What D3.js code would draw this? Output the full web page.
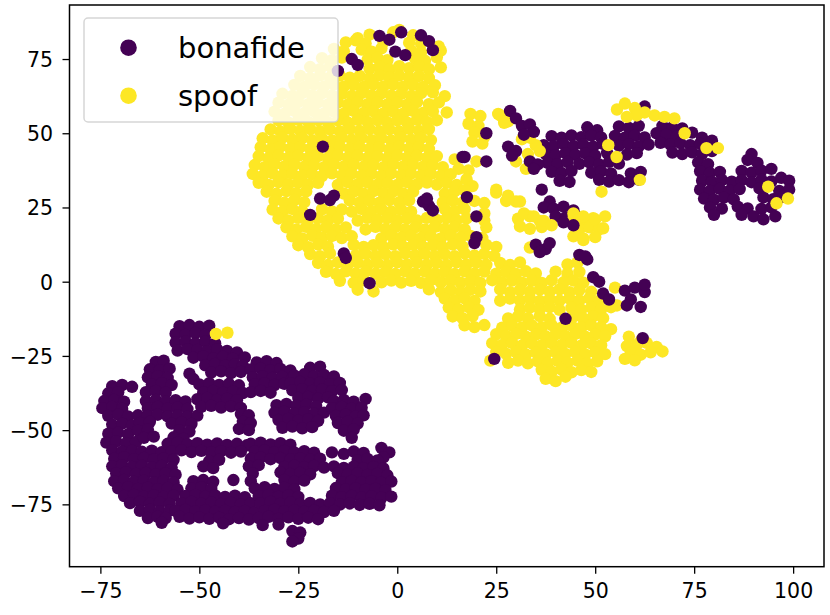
<!DOCTYPE html>
<html lang="en">

<head>
  <meta charset="UTF-8">
  <title>t-SNE bonafide / spoof</title>
  <script src="https://d3js.org/d3.v7.min.js"></script>
  <style>
    body {
      margin: 0;
      background: white;
    }

    text {
      font-family: "DejaVu Sans", sans-serif;
    }
  </style>
</head>

<body>
  <script>
    // ---- data ----
    var classNames = ["bonafide", "spoof"]
    var xTicks = [-75, -50, -25, 0, 25, 50, 75, 100]
    var yTicks = [-75, -50, -25, 0, 25, 50, 75]

    // bonafide, lower left cluster
    var bonafideLow = [
      // top knob
      [-55, -15], [-52.5, -14.6], [-50, -15.2], [-47.5, -14.8],
      [-56, -17.5], [-53.5, -17.9], [-51, -17.3], [-48.5, -18],
      [-56, -20.5], [-53.5, -20.1], [-51, -20.7], [-48.5, -20.2], [-46, -20.8],
      [-55.5, -23.2], [-53, -22.7], [-50.5, -23], [-48, -23.4], [-45.5, -22.8], [-43, -23.3], [-40.5, -23.8],
      [-51.5, -25.6], [-49, -25.2], [-46.5, -25.8], [-44, -25.3], [-41.5, -25.9], [-38.5, -25.5],
      [-48.5, -28.2], [-46, -27.7], [-43.5, -28.3], [-41, -27.8], [-39, -28.4],
      [-47, -30.6], [-44.5, -30.2], [-42, -30.8], [-39.5, -30.4],
      [-52.5, -31], [-51.5, -32.8],
      // upper left arm
      [-61, -27], [-59, -26.6], [-62.5, -29.5], [-60, -29.8], [-57.5, -29.3],
      [-63, -32.2], [-60.5, -31.8], [-58, -32.4], [-62, -34.6], [-59.5, -34.2], [-57, -34.8],
      [-63.5, -37.2], [-61, -36.8], [-58.5, -37.4],
      // left lobe
      [-72, -35.2], [-69.5, -34.8], [-67, -35.4], [-73, -37.6], [-70.5, -37.2],
      [-74, -40.2], [-71.5, -39.8], [-69, -40.4], [-74.5, -42.6], [-72, -42.2], [-69.5, -42.8],
      [-73, -45.2], [-70.5, -44.8], [-68, -45.4], [-65.5, -45],
      [-72, -48.2], [-69.5, -47.8], [-67, -48.4],
      [-73, -51.2], [-70.5, -50.8], [-68, -51.4], [-73.5, -54.2], [-71, -53.8], [-68.5, -54.4], [-66, -54],
      [-72, -56.8], [-69.5, -57.2], [-67, -56.9], [-64.5, -57.3], [-62, -56.9], [-59.5, -57.4],
      // centre left
      [-63.5, -40.2], [-61, -39.8], [-58.5, -40.4], [-56, -39.9], [-53.5, -40.3],
      [-63, -42.6], [-60.5, -42.2], [-58, -42.8], [-55.5, -42.4], [-53, -42.9],
      [-63, -45.2], [-60.5, -44.8], [-58, -45.4], [-55.5, -45], [-53, -45.5], [-50.5, -45.1],
      [-65, -47.6], [-62.5, -47.2], [-57, -47.8], [-54.5, -47.4], [-52, -47.9],
      [-65.5, -50.2], [-63, -49.8], [-55, -50], [-52.5, -50.5],
      [-64, -52.6], [-61.5, -52.2], [-56.5, -52.4], [-54, -52.9],
      // band right of centre
      [-50, -34.6], [-47.5, -34.2], [-45, -34.8], [-42.5, -34.4], [-40, -34.9],
      [-49, -37.2], [-46.5, -36.8], [-44, -37.4], [-41.5, -37], [-39, -37.5],
      [-50.5, -39.6], [-48, -39.2], [-45.5, -39.8], [-43, -39.4], [-40.5, -39.9],
      [-49.5, -42.2], [-47, -41.8], [-44.5, -42.4], [-42, -42], [-39.5, -42.5],
      [-39.5, -44.6], [-37.5, -45], [-39, -47.2], [-37, -47.6], [-40, -49.6], [-37.5, -50],
      [-58, -54.6], [-55.5, -54.2], [-53, -54.8], [-50.5, -54.4], [-48, -54.9], [-45.5, -54.5], [-43, -55], [-40.5, -54.6], [-38, -55.1],
      [-57, -57.2], [-54.5, -56.8], [-52, -57.4], [-49.5, -57], [-47, -57.5], [-44.5, -57.1], [-42, -57.6], [-39.5, -57.2],
      [-47.5, -60.4], [-45, -60],
      [-49, -62.2], [-46.5, -62.8], [-41.4, -66.8],
      // lower left
      [-71.5, -59.6], [-69, -59.2], [-66.5, -59.8], [-64, -59.4], [-61.5, -59.9], [-59, -59.5], [-56.5, -60],
      [-72, -62.2], [-69.5, -61.8], [-67, -62.4], [-64.5, -62], [-62, -62.5], [-59.5, -62.1], [-57, -62.6],
      [-71, -64.6], [-68.5, -64.2], [-66, -64.8], [-63.5, -64.4], [-61, -64.9], [-58.5, -64.5], [-56, -65],
      [-71.5, -67.2], [-69, -66.8], [-66.5, -67.4], [-64, -67], [-61.5, -67.5], [-59, -67.1], [-56.5, -67.6],
      [-70.5, -69.6], [-68, -69.2], [-65.5, -69.8], [-63, -69.4], [-60.5, -69.9], [-58, -69.5], [-55.5, -70],
      [-69, -72.2], [-66.5, -71.8], [-64, -72.4], [-61.5, -72], [-59, -72.5], [-56.5, -72.1],
      [-67.5, -74.6], [-65, -74.2], [-62.5, -74.8], [-60, -74.4], [-57.5, -74.9],
      [-65, -77.2], [-62.5, -76.8], [-60, -77.4], [-57.5, -77], [-63, -79.6], [-60.5, -79.2],
      // lower middle
      [-51.5, -67.2], [-49, -66.8], [-46.5, -67.4], [-52, -69.6], [-49.5, -69.2], [-47, -69.8],
      [-53.5, -72.2], [-51, -71.8], [-48.5, -72.4], [-46, -72], [-43.5, -72.5], [-41, -72.1], [-38.5, -72.6],
      [-54.5, -74.6], [-52, -74.2], [-49.5, -74.8], [-47, -74.4], [-44.5, -74.9], [-42, -74.5], [-39.5, -75], [-37, -74.6],
      [-56, -77.2], [-53.5, -76.8], [-51, -77.4], [-48.5, -77], [-46, -77.5], [-43.5, -77.1], [-41, -77.6], [-38.5, -77.2], [-36, -77.7],
      [-58.5, -79.6], [-55, -79.2], [-52.5, -79.8], [-50, -79.4], [-47.5, -79.9], [-45, -79.5], [-42.5, -80], [-40, -79.6], [-37.5, -80.1],
      [-59.5, -81.2], [-44, -81.4],
      // upper right part
      [-35.5, -27.2], [-33, -26.8], [-30.5, -27.4],
      [-37, -29.6], [-34.5, -29.2], [-32, -29.8], [-29.5, -29.4], [-27, -29.9],
      [-36.5, -32.2], [-34, -31.8], [-31.5, -32.4], [-29, -32], [-26.5, -32.5],
      [-36, -34.6], [-33.5, -34.2], [-31, -34.8], [-28.5, -34.4], [-37, -37.2], [-34.5, -36.8], [-32, -37.4],
      [-22, -29], [-19.5, -28.6],
      [-26, -31.6], [-23.5, -31.2], [-21, -31.8], [-18.5, -31.4], [-16, -31.9],
      [-27, -34.2], [-24.5, -33.8], [-22, -34.4], [-19.5, -34], [-17, -34.5], [-14.5, -34.1],
      [-26.5, -36.6], [-24, -36.2], [-21.5, -36.8], [-19, -36.4], [-16.5, -36.9], [-14, -36.5],
      [-25, -39.2], [-22.5, -38.8], [-20, -39.4], [-17.5, -39],
      [-30.5, -41.6], [-28, -41.2], [-25.5, -41.8], [-23, -41.4], [-20.5, -41.9],
      [-31, -44.2], [-28.5, -43.8], [-26, -44.4], [-23.5, -44], [-21, -44.5], [-18.5, -44.1],
      [-30, -46.6], [-27.5, -46.2], [-25, -46.8], [-22.5, -46.4], [-20, -46.9],
      [-29, -49.2], [-26.5, -48.8], [-24, -49.4], [-21.5, -49],
      [-16, -40.2], [-13.5, -39.8], [-11, -40.4], [-8, -39.5],
      [-16.5, -42.6], [-14, -42.2], [-11.5, -42.8], [-9, -42.4],
      [-15.5, -45.2], [-13, -44.8], [-10.5, -45.4], [-8.5, -45],
      [-15, -47.6], [-12.5, -47.2], [-10, -47.8], [-13.5, -50.2], [-11, -49.8], [-11.5, -52.6],
      // lower right part
      [-4, -56], [-2, -57.5], [-3.5, -59.2], [-16.5, -57.5], [-13.5, -58],
      [-37, -54.6], [-34.5, -54.2], [-32, -54.8], [-29.5, -54.4], [-27, -54.9],
      [-36, -57.2], [-33.5, -56.8], [-31, -57.4], [-28.5, -57], [-26, -57.5], [-23.5, -57.1], [-21, -57.6], [-11, -57.2], [-8.5, -57.7],
      [-37, -59.6], [-34.5, -59.2], [-32, -59.8], [-29.5, -59.4], [-27, -59.9], [-24.5, -59.5], [-22, -60], [-19.5, -59.6], [-10, -60.1], [-7.5, -59.7], [-5, -60.2],
      [-37.5, -62.2], [-35, -61.8], [-28.5, -62.4], [-26, -62], [-23.5, -62.5], [-21, -62.1], [-18.5, -62.6], [-16, -62.2], [-13.5, -62.7], [-11, -62.3], [-8.5, -62.8], [-6, -62.4], [-3.5, -62.9],
      [-36.5, -64.6], [-29.5, -64.2], [-27, -64.8], [-24.5, -64.4], [-22, -64.9], [-15, -64.5], [-12.5, -65], [-10, -64.6], [-7.5, -65.1], [-5, -64.7], [-2.5, -65.2],
      [-37, -67.2], [-28.5, -66.8], [-26, -67.4], [-23.5, -67], [-14, -67.5], [-11.5, -67.1], [-9, -67.6], [-6.5, -67.2], [-4, -67.7], [-1.5, -67.3],
      [-36, -69.6], [-33.5, -69.2], [-31, -69.8], [-28.5, -69.4], [-26, -69.9], [-15.5, -69.5], [-13, -70], [-10.5, -69.6], [-8, -70.1], [-5.5, -69.7], [-3, -70.2],
      [-35, -72.2], [-32.5, -71.8], [-30, -72.4], [-27.5, -72], [-25, -72.5], [-16.5, -72.1], [-14, -72.6], [-11.5, -72.2], [-9, -72.7], [-6.5, -72.3], [-4, -72.8], [-1.5, -72.4],
      [-34.5, -74.6], [-32, -74.2], [-29.5, -74.8], [-27, -74.4], [-24.5, -74.9], [-22, -74.5], [-19.5, -75], [-17, -74.6], [-14.5, -75.1], [-12, -74.7], [-9.5, -75.2], [-7, -74.8], [-4.5, -75.3],
      [-33.5, -77.2], [-31, -76.8], [-28.5, -77.4], [-26, -77], [-23.5, -77.5], [-21, -77.1], [-18.5, -77.6], [-16, -77.2],
      [-35, -79.6], [-32.5, -79.2], [-30, -79.8], [-27.5, -79.4], [-25, -79.9], [-22.5, -79.5], [-20, -80],
      [-34, -82], [-30, -81.8],
      [-26.5, -84], [-24.5, -84.5], [-25, -86.5], [-26.5, -87.5]
    ]

    // bonafide, the arm on the right (drawn under spoof)
    var bonafideArm = [
      [62.5, 59],
      [48, 52], [50.5, 51], [56, 52.3], [58.5, 51.8], [61, 52.5], [67, 52.5], [69.5, 52], [72, 51.6], [74.5, 50.2],
      [39, 49], [41.5, 48.5], [44, 49.3], [46.5, 48.7], [49, 49.2], [51.5, 48.6], [55, 49.1], [57.5, 48.5], [60, 49.2], [62.5, 48.6], [65.5, 50], [68, 49.5], [70.5, 48.8], [77, 48.5], [79.5, 47.5],
      [37, 46], [39.5, 45.6], [42, 46.3], [44.5, 45.7], [47, 46.2], [49.5, 45.5], [52, 46.4], [56, 45.8], [58.5, 46.3], [61, 45.6], [63.5, 46.2], [66.5, 46.8], [69, 46.2], [71.5, 46.7], [74, 46], [76.5, 46.5],
      [37.5, 43], [40, 42.6], [42.5, 43.3], [45, 42.7], [47.5, 43.2], [50, 42.5], [53, 43.4], [58, 42.8], [60.5, 43.3], [69.5, 43.5], [72, 43], [74.5, 43.6], [77, 43], [79.5, 44], [89.5, 43],
      [38, 40], [40.5, 39.6], [43, 40.3], [46, 39.7], [48.5, 40.2], [51, 39.5], [53.5, 40.4], [56, 39.8], [76, 40.2], [78.5, 39.6], [88.5, 41], [91, 40],
      [39, 37], [41.5, 36.6], [44, 37.3], [49, 36.7], [51.5, 37.2], [54, 36.5], [59, 36.5], [61.5, 37], [76.5, 37.2], [79, 36.6], [81.5, 37], [87, 37.3], [89.5, 36.7], [92, 37.4], [94.5, 38],
      [41, 34], [43.5, 33.6], [51, 34.3], [53.5, 33.7], [56, 34.2], [58.5, 33.5], [61, 34.4], [77, 34], [79.5, 33.6], [82, 34.3], [84.5, 33.7], [87, 34.2], [89.5, 33.5], [92, 34.4], [94.5, 33.8], [97, 35], [99, 34],
      [36.5, 31], [76.5, 31], [79, 30.6], [81.5, 31.3], [84, 30.7], [86.5, 31.2], [91.5, 31.4], [96.5, 30.6], [99, 31],
      [38.5, 27], [77.5, 28], [80, 27.6], [82.5, 28.3], [85, 27.7], [92.5, 28.4], [95, 27.8], [97.5, 28.6],
      [37, 25], [39.5, 24.6], [42, 25.3], [44.5, 24], [79, 25], [82, 24.6], [86, 25.3], [88.5, 24.7], [92, 24.5], [94.5, 25],
      [40, 22], [42.5, 21.6], [45, 22.3], [46.5, 20], [80, 22.5], [87, 22.5], [90, 22], [92.5, 21], [95.5, 22]
    ]

    var spoofPts = [
      [-10, 82], [-7, 83.2], [-1, 84], [0.5, 84.8], [4, 83],
      [-13, 80.6], [-10.5, 81.3], [-8, 80.2], [-3.5, 80.8], [3, 80.5], [6, 80.2], [10.5, 79.2],
      [-16, 78.4], [-13.5, 77.6], [-9, 78.2], [-6.5, 77.5], [-4, 78.6], [3.5, 77.8], [6, 77.3], [11, 77.8],
      [-19, 75.3], [-16.5, 74.6], [-14, 75.5], [-7.5, 74.8], [-5, 75.4], [-2.5, 74.6], [4.5, 75.2], [7, 74.4], [10, 75.6],
      [-22, 72.3], [-19.5, 71.6], [-17, 72.5], [-7, 71.8], [-4.5, 72.4], [-2, 71.5], [0.5, 72.6], [3, 71.9], [5.5, 72.5], [8, 71.6], [11, 72.2],
      [-24.5, 69.3], [-22, 68.6], [-19.5, 69.5], [-17, 68.8], [-14.5, 69.4], [-12, 68.7], [-9.5, 69.3], [-7, 68.6], [-4.5, 69.5], [-2, 68.8], [0.5, 69.4], [3, 68.7], [5.5, 69.3], [8, 68.6],
      [-26, 66.3], [-23.5, 65.6], [-21, 66.5], [-18.5, 65.8], [-16, 66.4], [-13.5, 65.7], [-11, 66.3], [-8.5, 65.6], [-6, 66.5], [-3.5, 65.8], [-1, 66.4], [1.5, 65.7], [4, 66.3], [6.5, 65.6], [9.5, 66.2],
      [-29, 63.3], [-26.5, 62.6], [-24, 63.5], [-21.5, 62.8], [-19, 63.4], [-16.5, 62.7], [-14, 63.3], [-11.5, 62.6], [-9, 63.5], [-6.5, 62.8], [-4, 63.4], [-1.5, 62.7], [1, 63.3], [3.5, 62.6], [6, 63.5], [9, 63.8], [12, 62.5],
      [-30, 60.3], [-27.5, 59.6], [-25, 60.5], [-22.5, 59.8], [-20, 60.4], [-17.5, 59.7], [-15, 60.3], [-12.5, 59.6], [-10, 60.5], [-7.5, 59.8], [-5, 60.4], [-2.5, 59.7], [0, 60.3], [2.5, 59.6], [5, 60.5], [8, 59.8], [10.5, 60.4],
      [-31, 57.3], [-28.5, 56.6], [-26, 57.5], [-23.5, 56.8], [-21, 57.4], [-18.5, 56.7], [-16, 57.3], [-13.5, 56.6], [-11, 57.5], [-8.5, 56.8], [-6, 57.4], [-3.5, 56.7], [-1, 57.3], [1.5, 56.6], [4, 57.5], [6.5, 56.8], [9, 57.4], [12.5, 57], [18.5, 56.5], [21, 55.8], [25.5, 56.5], [28, 54],
      [-30, 54.3], [-27.5, 53.6], [-25, 54.5], [-22.5, 53.8], [-20, 54.4], [-17.5, 53.7], [-15, 54.3], [-12.5, 53.6], [-10, 54.5], [-7.5, 53.8], [-5, 54.4], [-2.5, 53.7], [0, 54.3], [2.5, 53.6], [5, 54.5], [7.5, 53.8], [10, 54.4], [18, 53.2], [20.5, 52.5],
      [-32, 51.3], [-29.5, 50.6], [-27, 51.5], [-24.5, 50.8], [-22, 51.4], [-19.5, 50.7], [-17, 51.3], [-14.5, 50.6], [-12, 51.5], [-9.5, 50.8], [-7, 51.4], [-4.5, 50.7], [-2, 51.3], [0.5, 50.6], [3, 51.5], [5.5, 50.8], [8, 51.4], [19.5, 50.2], [22, 48.8],
      [-34, 48.3], [-31.5, 47.6], [-29, 48.5], [-26.5, 47.8], [-24, 48.4], [-21.5, 47.7], [-19, 48.3], [-16.5, 47.6], [-14, 48.5], [-11.5, 47.8], [-9, 48.4], [-6.5, 47.7], [-4, 48.3], [-1.5, 47.6], [1, 48.5], [3.5, 47.8], [6, 48.4], [8.5, 47.7], [19, 47.2], [21.5, 46.5],
      [-34.5, 45.3], [-32, 44.6], [-29.5, 45.5], [-27, 44.8], [-24.5, 45.4], [-22, 44.7], [-19.5, 45.3], [-17, 44.6], [-14.5, 45.5], [-12, 44.8], [-9.5, 45.4], [-7, 44.7], [-4.5, 45.3], [-2, 44.6], [0.5, 45.5], [3, 44.8], [5.5, 45.4], [8, 44.7],
      [-35, 42.3], [-32.5, 41.6], [-30, 42.5], [-27.5, 41.8], [-25, 42.4], [-22.5, 41.7], [-20, 42.3], [-17.5, 41.6], [-15, 42.5], [-12.5, 41.8], [-10, 42.4], [-7.5, 41.7], [-5, 42.3], [-2.5, 41.6], [0, 42.5], [2.5, 41.8], [5, 42.4], [7.5, 41.7], [10, 42.3], [14.5, 41.2], [20, 40.5],
      [-36, 39.3], [-33.5, 38.6], [-31, 39.5], [-28.5, 38.8], [-26, 39.4], [-23.5, 38.7], [-21, 39.3], [-18.5, 38.6], [-16, 39.5], [-13.5, 38.8], [-11, 39.4], [-8.5, 38.7], [-6, 39.3], [-3.5, 38.6], [-1, 39.5], [1.5, 38.8], [4, 39.4], [6.5, 38.7], [9, 39.3], [11.5, 38.6], [15.5, 38], [18, 37.5],
      [-36.5, 36.3], [-34, 35.6], [-31.5, 36.5], [-29, 35.8], [-26.5, 36.4], [-24, 35.7], [-21.5, 36.3], [-19, 35.6], [-16.5, 36.5], [-14, 35.8], [-11.5, 36.4], [-9, 35.7], [-6.5, 36.3], [-4, 35.6], [-1.5, 36.5], [1, 35.8], [3.5, 36.4], [6, 35.7], [8.5, 36.3], [11, 35.6], [13.5, 36.2], [17.5, 34.5],
      [-35, 33.3], [-32.5, 32.6], [-30, 33.5], [-27.5, 32.8], [-25, 33.4], [-22.5, 32.7], [-20, 33.3], [-15, 32.6], [-12.5, 33.5], [-10, 32.8], [-7.5, 33.4], [-5, 32.7], [-2.5, 33.3], [0, 32.6], [2.5, 33.5], [5, 32.8], [7.5, 33.4], [10, 32.7], [12.5, 33.3], [15, 32.6], [19, 32.2],
      [-33, 30.3], [-30.5, 29.6], [-28, 30.5], [-25.5, 29.8], [-23, 30.4], [-13.5, 29.7], [-11, 30.3], [-8.5, 29.6], [-6, 30.5], [-3.5, 29.8], [-1, 30.4], [1.5, 29.7], [4, 30.3], [12, 29.6], [14.5, 30.5], [17, 30.8], [25, 30], [27.5, 27.2], [30, 27],
      [-31, 27.3], [-28.5, 26.6], [-26, 27.5], [-23.5, 26.8], [-12, 27.4], [-9.5, 26.7], [-7, 27.3], [-4.5, 26.6], [-2, 27.5], [0.5, 26.8], [3, 27.4], [11.5, 26.7], [14, 27.3], [16.5, 26.6], [19.5, 27.2], [22, 26.5],
      [-31.5, 24.3], [-29, 23.6], [-26.5, 24.5], [-24, 23.8], [-19, 24.4], [-16.5, 23.7], [-14, 24.3], [-11.5, 23.6], [-9, 24.5], [-6.5, 23.8], [-4, 24.4], [-1.5, 23.7], [1, 24.3], [3.5, 23.6], [12, 24.5], [14.5, 23.8], [17, 24.4], [22, 23],
      [-30, 21.3], [-27.5, 20.6], [-25, 21.5], [-22.5, 20.8], [-20, 21.4], [-17.5, 20.7], [-15, 21.3], [-10, 20.6], [-7.5, 21.5], [-5, 20.8], [-2.5, 21.4], [0, 20.7], [2.5, 21.3], [5, 20.6], [7.5, 21.5], [10, 20.8], [12.5, 21.4], [15, 20.7], [17.5, 21.3], [22, 20.6], [30.5, 21.2], [33.5, 22], [36, 20.5], [44.5, 21.2], [47, 20.6], [49.5, 21.4], [52.5, 22],
      [-28, 18.3], [-25.5, 17.6], [-23, 18.5], [-20.5, 17.8], [-18, 18.4], [-15.5, 17.7], [-13, 18.3], [-8, 17.6], [-5.5, 18.5], [-3, 17.8], [-0.5, 18.4], [2, 17.7], [4.5, 18.3], [7, 17.6], [9.5, 18.5], [12, 17.8], [14.5, 18.4], [17, 17.7], [22.5, 18.3], [31, 18.6], [33.5, 17.8], [36.5, 18.4], [46, 17.7], [48.5, 18.3], [51, 17.6],
      [-26.5, 15.3], [-24, 14.6], [-21.5, 15.5], [-19, 14.8], [-16.5, 15.4], [-14, 14.7], [-11.5, 15.3], [-4, 14.6], [-1.5, 15.5], [1, 14.8], [3.5, 15.4], [6, 14.7], [8.5, 15.3], [11, 14.6], [13.5, 15.5], [16, 14.8], [18.5, 15.4], [21.5, 14.7], [44.5, 15.3], [47, 14.6],
      [-25, 12.3], [-22.5, 11.6], [-20, 12.5], [-17.5, 11.8], [-11, 12.4], [-8.5, 11.7], [-6, 12.3], [-3.5, 11.6], [-1, 12.5], [1.5, 11.8], [4, 12.4], [6.5, 11.7], [9, 12.3], [11.5, 11.6], [14, 12.5], [16.5, 11.8], [22.5, 12.4], [25, 11.7], [33.5, 11.5],
      [-22, 9.3], [-19.5, 8.6], [-17, 9.5], [-10.5, 8.8], [-8, 9.4], [-5.5, 8.7], [-3, 9.3], [-0.5, 8.6], [2, 9.5], [4.5, 8.8], [7, 9.4], [9.5, 8.7], [12, 9.3], [14.5, 8.6], [17, 9.5], [19.5, 8.8], [22, 9.4], [24.5, 8.7],
      [-20, 6.3], [-17.5, 5.6], [-15, 6.5], [-12.5, 5.8], [-10, 6.4], [-7.5, 5.7], [-5, 6.3], [-2.5, 5.6], [0, 6.5], [2.5, 5.8], [5, 6.4], [7.5, 5.7], [10, 6.3], [12.5, 5.6], [15, 6.5], [17.5, 5.8], [20, 6.4], [22.5, 5.7], [26, 6.3], [28.5, 5.6], [31, 6.5], [43, 5.8], [45.5, 6.4],
      [-18, 3.3], [-15.5, 2.6], [-13, 3.5], [-10.5, 2.8], [-8, 3.4], [-5.5, 2.7], [-3, 3.3], [-0.5, 2.6], [2, 3.5], [4.5, 2.8], [7, 3.4], [9.5, 2.7], [12, 3.3], [14.5, 2.6], [17, 3.5], [19.5, 2.8], [22, 3.4], [25, 2.7], [27.5, 3.3], [30, 2.6], [32.5, 3.5], [35, 2.8], [40, 3.4], [43, 2.7], [46, 3.3],
      [-14.5, 0.3], [-11, -0.4], [-8.5, 0.5], [-4, -0.2], [-1.5, 0.4], [1, -0.3], [3.5, 0.3], [6, -0.4], [8.5, 0.5], [11, -0.2], [13.5, 0.4], [16, -0.3], [18.5, 0.3], [21, -0.4], [24, 0.5], [26.5, -0.2], [29, 0.4], [31.5, -0.3], [34, 0.3], [36.5, -0.4], [39, 0.5], [42, -0.2], [44.5, 0.4], [47, -0.3],
      [-10, -2.7], [-6, -3.3], [8, -2.6], [11, -3.5], [13.5, -2.8], [16, -3.4], [18.5, -2.7], [21, -3.3], [26, -2.6], [28.5, -3.5], [31, -2.8], [33.5, -3.4], [36, -2.7], [38.5, -3.3], [41, -2.6], [43.5, -3.5], [46, -2.8], [49, -3.4], [55, -2],
      [12, -5.7], [14.5, -6.3], [17, -5.6], [19.5, -6.5], [26, -6.4], [28.5, -5.7], [31, -6.3], [33.5, -5.6], [36, -6.5], [38.5, -5.8], [41, -6.4], [43.5, -5.7], [46, -6.3], [48.5, -5.6], [51, -6.5], [55.5, -8],
      [13, -8.7], [15.5, -9.3], [18, -8.6], [20.5, -9.5], [31, -9.4], [33.5, -8.7], [36, -9.3], [38.5, -8.6], [41, -9.5], [44, -8.8], [46.5, -9.4], [49, -8.7], [51.5, -9.3], [54, -8.6],
      [14, -11.7], [16.5, -12.3], [19, -11.6], [28, -12.4], [30.5, -11.7], [33, -12.3], [36, -11.6], [38.5, -12.5], [44.5, -11.8], [47, -12.4], [49.5, -11.7], [52, -12.3],
      [17, -14.7], [19.5, -15.3], [22, -14.6], [26.5, -15.5], [29, -14.8], [31.5, -15.4], [34, -14.7], [36.5, -15.3], [39, -14.6], [41.5, -15.5], [44, -14.8], [46.5, -15.4], [49, -14.7], [51.5, -15.3], [54, -16],
      [25, -17.7], [27.5, -18.3], [30, -17.6], [32.5, -18.5], [35, -17.8], [37.5, -18.4], [40, -17.7], [42.5, -18.3], [45, -17.6], [47.5, -18.5], [50, -17.8], [52.5, -18.4], [58.5, -18.5], [61.5, -20],
      [24, -20.7], [26.5, -21.3], [29, -20.6], [31.5, -21.5], [34, -20.8], [36.5, -21.4], [39, -20.7], [41.5, -21.3], [44, -20.6], [46.5, -21.5], [49, -20.8], [51.5, -21.4], [58, -21.7], [60.5, -21.3], [63, -20.6], [65.5, -22],
      [25, -23.7], [27.5, -24.3], [30, -23.6], [32.5, -24.5], [35, -23.8], [37.5, -24.4], [40, -23.7], [42.5, -24.3], [45, -23.6], [47.5, -24.5], [50, -23.8], [52.5, -24.4], [59, -24], [61.5, -24.6], [64, -23.8], [67, -23.5],
      [23.5, -26.6], [28, -27.3], [30.5, -26.6], [33, -27.5], [35.5, -26.8], [38, -27.4], [40.5, -26.7], [43, -27.3], [45.5, -26.6], [48, -27.5], [50.5, -26.8], [57.5, -26], [60, -26.5],
      [36.5, -29.7], [39, -30.3], [41.5, -29.6], [44, -30.5], [46.5, -29.8], [49, -30.4],
      [37.5, -32.7], [40, -33.5], [42.5, -32],
      // small groups away from the main body
      [-45.8, -17.6], [-42.9, -17.2],
      [55.5, 58], [57.5, 60], [60, 58.5], [62.5, 57], [65, 56], [67.5, 55.5], [70, 55], [60.5, 56], [58, 55.5],
      [53.3, 46], [55.4, 42], [61.3, 34.3], [51.6, 30.3], [72.6, 50], [78.1, 45], [81, 45], [93.7, 32], [95.8, 26.4], [98.7, 28],
      [27, 53.5], [26, 56], [31.5, 48], [30, 40.5], [33, 43], [35, 46], [36, 44], [32.5, 38], [33.5, 48.5],
      [25, 31], [28, 29], [31, 27], [32, 23], [34.5, 22], [37, 20.5], [39, 19], [44.5, 23], [47, 22], [50, 21], [52, 18], [50, 15], [47, 14]
    ]

    // bonafide points lying on top of the spoof cloud
    var bonafideTop = [
      [-4.5, 82.8], [-2, 81.5], [1, 84], [6, 83], [8, 81], [9, 78], [-0.5, 77.5], [2, 76.3], [-11.5, 75], [-10, 73], [-15, 71],
      [-18.8, 45.5], [-19.5, 28], [-17, 27.5], [-16, 29], [-22, 22.5], [-13.5, 9.5], [-13, 8], [-7, -0.5],
      [6.5, 27], [8, 25.5], [9, 24], [7.5, 28], [17, 42], [17.6, 28.5], [20, 22], [20, 15], [19.5, 13],
      [22.5, 50], [16.5, 42], [22.5, 40.5],
      [28.5, 57.5], [30, 55], [31.5, 52.5], [33.5, 53], [34.5, 50.5], [32, 49.5], [28, 45.5], [30, 44], [29, 42.5], [33.5, 40.5], [35.5, 39.5], [34.5, 38],
      [35, 12.5], [37.5, 11], [36, 10], [38.5, 13], [42, 20], [44.5, 19], [46, 9], [48, 7.5], [47.5, 8.5],
      [49.5, 1.5], [51, 0], [52, -4], [53.5, -6], [57.5, -3], [60, -2], [62.5, -3.5], [59, -6], [61.5, -8.5], [58, -8], [62.5, -1],
      [42.5, -12.5], [62, -19], [24.5, -26]
    ]

    // ---- layout ----
    var W = 830, H = 615
    var plotL = 69.5, plotR = 824, plotT = 5, plotB = 566.7
    var colors = { bonafide: "#440154", spoof: "#fde725" }

    var x = d3.scaleLinear().domain([-82.8, 107.8]).range([plotL, plotR])
    var y = d3.scaleLinear().domain([-96, 93.2]).range([plotB, plotT])

    var svg = d3.select("body").append("svg")
      .attr("width", W)
      .attr("height", H)

    svg.append("rect").attr("width", W).attr("height", H).attr("fill", "white")

    svg.append("clipPath").attr("id", "clip")
      .append("rect")
      .attr("x", plotL).attr("y", plotT)
      .attr("width", plotR - plotL).attr("height", plotB - plotT)

    var plot = svg.append("g")
      .attr("clip-path", "url(#clip)")

    function drawPoints(pts, color) {
      plot.append("g").selectAll("circle")
        .data(pts)
        .enter().append("circle")
        .attr("cx", function (d) { return x(d[0]); })
        .attr("cy", function (d) { return y(d[1]); })
        .attr("r", 6.2)
        .attr("fill", color)
    }

    drawPoints(bonafideLow, colors.bonafide)
    drawPoints(bonafideArm, colors.bonafide)
    drawPoints(spoofPts, colors.spoof)
    drawPoints(bonafideTop, colors.bonafide)

    // axes
    var xAxis = svg.append("g")
      .attr("transform", "translate(0," + plotB + ")")
      .call(d3.axisBottom(x).tickValues(xTicks).tickSize(7).tickSizeOuter(0))
    xAxis.select(".domain").remove()
    xAxis.selectAll("line").attr("stroke", "black").attr("stroke-width", 1.3)
    xAxis.selectAll("text")
      .attr("y", 31.3).attr("dy", null)
      .attr("font-size", "20.5px")
      .attr("font-family", "DejaVu Sans")
      .attr("fill", "black")

    var yAxis = svg.append("g")
      .attr("transform", "translate(" + plotL + ",0)")
      .call(d3.axisLeft(y).tickValues(yTicks).tickSize(7).tickSizeOuter(0))
    yAxis.select(".domain").remove()
    yAxis.selectAll("line").attr("stroke", "black").attr("stroke-width", 1.3)
    yAxis.selectAll("text")
      .attr("x", -16.5).attr("dy", "0.36em")
      .attr("font-size", "20.5px")
      .attr("font-family", "DejaVu Sans")
      .attr("fill", "black")

    // frame
    svg.append("rect")
      .attr("x", plotL).attr("y", plotT)
      .attr("width", plotR - plotL).attr("height", plotB - plotT)
      .attr("fill", "none")
      .attr("stroke", "black")
      .attr("stroke-width", 1.5)

    // legend
    var legend = svg.append("g")
    legend.append("rect")
      .attr("x", 84).attr("y", 18)
      .attr("width", 254).attr("height", 104)
      .attr("rx", 4)
      .attr("fill", "white").attr("fill-opacity", 0.8)
      .attr("stroke", "#cccccc").attr("stroke-opacity", 0.8)
      .attr("stroke-width", 1.5)

    var items = legend.selectAll(".item")
      .data(classNames)
      .enter().append("g")
      .attr("transform", function (d, i) { return "translate(128.5," + (47.7 + i * 48) + ")"; })
    items.append("circle")
      .attr("r", 8.3)
      .attr("fill", function (d) { return colors[d]; })
    items.append("text")
      .attr("x", 49.5).attr("y", 9.8)
      .attr("font-size", "29px")
      .attr("fill", "black")
      .text(function (d) { return d; })
  </script>
</body>

</html>
